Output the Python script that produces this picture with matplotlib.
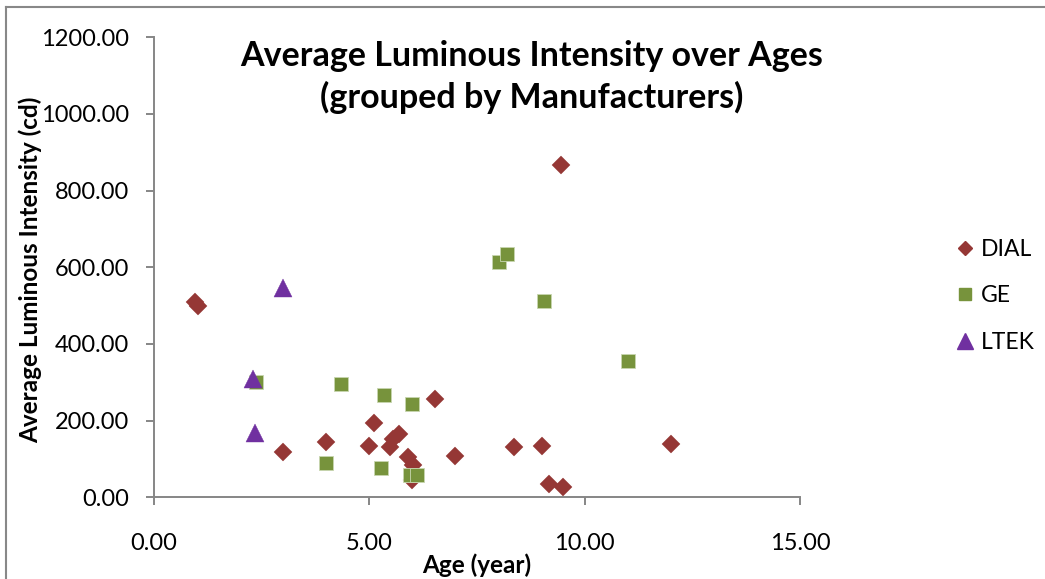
import matplotlib
matplotlib.use("Agg")
import matplotlib.pyplot as plt
from matplotlib.lines import Line2D

plt.rcParams['font.family'] = ['Lato', 'DejaVu Sans']

# Data
dial_age = [0.95, 1.03, 3.0, 4.0, 5.0, 5.1, 5.48, 5.55, 5.7, 5.9, 6.02, 6.0, 6.52, 7.0, 8.35, 9.0, 9.17, 9.45, 9.5, 12.0]
dial_lum = [510, 500, 117, 143, 134, 195, 132, 152, 164, 106, 84, 45, 256, 108, 130, 133, 35, 866, 28, 138]

ge_age = [2.37, 4.0, 4.35, 5.28, 5.35, 5.95, 6.0, 6.1, 8.0, 8.2, 9.05, 11.0]
ge_lum = [300, 90, 295, 76, 266, 58, 244, 58, 613, 635, 513, 355]

ltek_age = [2.3, 2.35, 3.0]
ltek_lum = [308, 167, 545]

series_names = ["DIAL", "GE", "LTEK"]
x_ticks = [0, 5, 10, 15]
y_ticks = [0, 200, 400, 600, 800, 1000, 1200]

W, H = 1045, 579
fig = plt.figure(figsize=(W / 100, H / 100), dpi=100)
ax = fig.add_axes([154 / W, 1 - 497.3 / H, (800 - 154) / W, (497.3 - 37.3) / H])

c_dial = '#953735'
c_ge = '#77933C'
c_ltek = '#7030A0'

ax.plot(dial_age, dial_lum, linestyle='none', marker='D', ms=9.2, color=c_dial,
        markeredgecolor=c_dial, markeredgewidth=0.3, label=series_names[0], clip_on=False, zorder=3)
ax.plot(ge_age, ge_lum, linestyle='none', marker='s', ms=9.6, color=c_ge,
        markeredgecolor='#c8d6b0', markeredgewidth=0.6, label=series_names[1], clip_on=False, zorder=4)
ax.plot(ltek_age, ltek_lum, linestyle='none', marker='^', ms=13, color=c_ltek,
        markeredgecolor=c_ltek, markeredgewidth=0.3, label=series_names[2], clip_on=False, zorder=5)

ax.set_xlim(0, 15)
ax.set_ylim(0, 1200)
ax.set_xticks(x_ticks)
ax.set_yticks(y_ticks)
ax.set_xticklabels([f"{v:.2f}" for v in x_ticks])
ax.set_yticklabels([f"{v:.2f}" for v in y_ticks])

for s in ['top', 'right']:
    ax.spines[s].set_visible(False)
for s in ['left', 'bottom']:
    ax.spines[s].set_color('#868686')
    ax.spines[s].set_linewidth(1.4)
ax.tick_params(axis='both', direction='out', length=6, width=1.4, color='#868686',
               labelsize=17, labelcolor='black')
ax.tick_params(axis='x', pad=20)
ax.tick_params(axis='y', pad=12)

fig.text(477 / W, 1 - 565 / H, "Age (year)", ha='center', va='center',
         fontsize=17.5, fontweight='bold')
fig.text(30 / W, 1 - 270 / H, "Average Luminous Intensity (cd)", ha='center', va='center',
         rotation=90, fontsize=17.5, fontweight='bold')

fig.text(532 / W, 1 - 77 / H, "Average Luminous Intensity over Ages\n(grouped by Manufacturers)",
         ha='center', va='center', fontsize=24.5, fontweight='bold', linespacing=1.32)

handles = [
    Line2D([], [], linestyle='none', marker='D', ms=7.5, color=c_dial),
    Line2D([], [], linestyle='none', marker='s', ms=9, color=c_ge),
    Line2D([], [], linestyle='none', marker='^', ms=11, color=c_ltek),
]
fig.legend(handles, series_names, loc='center left', bbox_to_anchor=(944 / W, 1 - 296 / H),
           frameon=False, fontsize=16.5, labelspacing=1.1, handlelength=0.8,
           handletextpad=0.3, borderpad=0)

# outer chart border (top and left visible)
fig.add_artist(Line2D([6 / W, 1.0], [1 - 7 / H, 1 - 7 / H], transform=fig.transFigure,
                      color='#888888', lw=1.5))
fig.add_artist(Line2D([6 / W, 6 / W], [1 - 7 / H, 0], transform=fig.transFigure,
                      color='#888888', lw=1.5))

fig.savefig("out.png", dpi=100)
